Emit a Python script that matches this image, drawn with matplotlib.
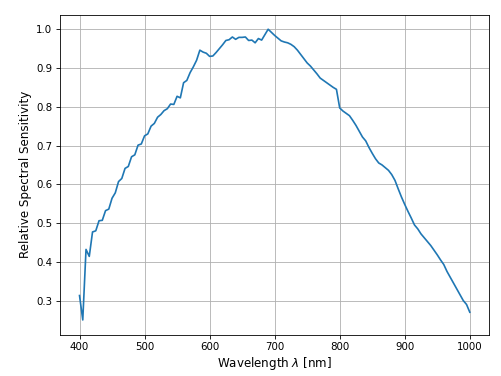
import matplotlib
matplotlib.use("Agg")
import matplotlib.pyplot as plt

wavelength = [400, 405, 410, 415, 420, 425, 430, 435, 440, 445, 450, 455, 460, 465, 470,
              475, 480, 485, 490, 495, 500, 505, 510, 515, 520, 525, 530, 535, 540, 545,
              550, 555, 560, 565, 570, 575, 580, 585, 590, 595, 600, 605, 610, 615, 620,
              625, 630, 635, 640, 645, 650, 655, 660, 665, 670, 675, 680, 685, 690, 695,
              700, 705, 710, 715, 720, 725, 730, 735, 740, 745, 750, 755, 760, 765, 770,
              775, 780, 785, 790, 795, 800, 805, 810, 815, 820, 825, 830, 835, 840, 845,
              850, 855, 860, 865, 870, 875, 880, 885, 890, 895, 900, 905, 910, 915, 920,
              925, 930, 935, 940, 945, 950, 955, 960, 965, 970, 975, 980, 985, 990, 995, 1000]
sensitivity = [0.313, 0.250, 0.432, 0.414, 0.477, 0.480, 0.506, 0.507, 0.532, 0.536, 0.564,
               0.578, 0.607, 0.615, 0.641, 0.646, 0.671, 0.676, 0.701, 0.704, 0.725, 0.730,
               0.750, 0.757, 0.773, 0.780, 0.790, 0.795, 0.807, 0.806, 0.827, 0.823, 0.862,
               0.868, 0.888, 0.903, 0.920, 0.946, 0.941, 0.938, 0.930, 0.931, 0.940, 0.950,
               0.960, 0.971, 0.973, 0.980, 0.974, 0.979, 0.979, 0.980, 0.971, 0.972, 0.965,
               0.976, 0.972, 0.986, 1.000, 0.992, 0.984, 0.977, 0.970, 0.967, 0.965, 0.961,
               0.955, 0.946, 0.935, 0.924, 0.913, 0.905, 0.895, 0.885, 0.874, 0.868, 0.862,
               0.856, 0.850, 0.845, 0.797, 0.789, 0.783, 0.777, 0.765, 0.752, 0.737, 0.722,
               0.712, 0.695, 0.680, 0.666, 0.655, 0.650, 0.643, 0.636, 0.625, 0.610, 0.588,
               0.567, 0.548, 0.530, 0.513, 0.495, 0.485, 0.472, 0.462, 0.452, 0.442, 0.430,
               0.418, 0.405, 0.393, 0.375, 0.360, 0.345, 0.330, 0.315, 0.300, 0.290, 0.270]

fs = 7.4
lfs = 8.6
fig = plt.figure(figsize=(5.01, 3.76), dpi=100)
ax = fig.add_axes([60 / 501, (376 - 334.5) / 376, (489.3 - 60) / 501, (334.5 - 14.7) / 376])
ax.plot(wavelength, sensitivity, color="#1f77b4", linewidth=1.2)
ax.grid(True, color="#b0b0b0", linewidth=0.6)
ax.set_xlabel(r"Wavelength $\lambda$ [nm]", fontsize=lfs, labelpad=2.5)
ax.set_ylabel("Relative Spectral Sensitivity", fontsize=lfs, labelpad=3)
ax.tick_params(labelsize=fs, width=0.6, length=2.7, pad=2.7)
for s in ax.spines.values():
    s.set_linewidth(0.6)
fig.savefig("out.png", dpi=100)
